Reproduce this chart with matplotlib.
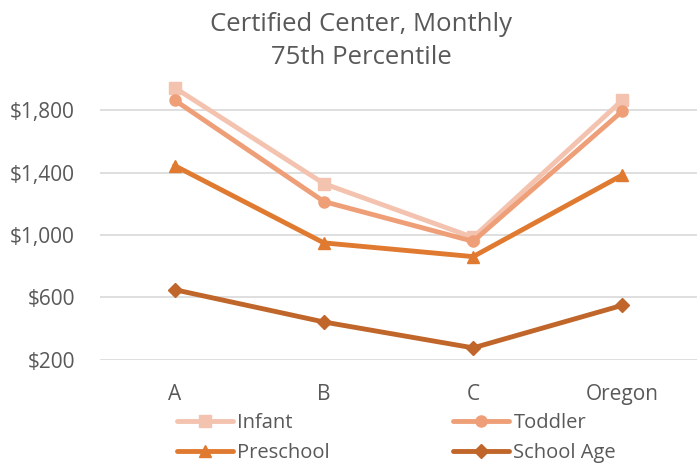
import numpy as np
from matplotlib import pyplot as plt

categories = ["A", "B", "C", "Oregon"]
infant = [1945, 1330, 985, 1865]
toddler = [1865, 1215, 960, 1795]
preschool = [1445, 950, 862, 1385]
school_age = [650, 443, 277, 550]

yticks = [200, 600, 1000, 1400, 1800]

plt.rcParams['font.family'] = ['Open Sans', 'DejaVu Sans']
gray = '#595959'

fig = plt.figure(figsize=(6.97, 4.68), dpi=100)
ax = fig.add_axes([0.1435, 0.231, 0.8565, 0.6])

x = np.arange(len(categories))
series = [
    ("Infant", infant, '#F4C3AF', 's', 9),
    ("Toddler", toddler, '#EF9F78', 'o', 8),
    ("Preschool", preschool, '#E07A30', '^', 9),
    ("School Age", school_age, '#C0662B', 'D', 7),
]
lines = {}
for name, vals, col, mk, ms in series:
    ln, = ax.plot(x, vals, color=col, lw=3.5, marker=mk, markersize=ms,
                  label=name, solid_joinstyle='round', solid_capstyle='round')
    lines[name] = ln

ax.set_xlim(-0.5, 3.5)
ax.set_ylim(200, 2000)
ax.set_yticks(yticks)
ax.set_yticklabels(["${:,}".format(v) for v in yticks])
ax.set_xticks(x)
ax.set_xticklabels(categories)
ax.tick_params(axis='both', length=0, labelsize=15, colors=gray)
ax.tick_params(axis='x', pad=17)
ax.tick_params(axis='y', pad=18)
for s in ax.spines.values():
    s.set_visible(False)
ax.grid(axis='y', color='#D9D9D9', linewidth=1.2)
ax.set_axisbelow(True)

fig.text(361 / 697, 0.975, "Certified Center, Monthly\n75th Percentile", ha='center',
         va='top', fontsize=18.5, color=gray, linespacing=1.45)

cols = [(["Infant", "Preschool"], 177), (["Toddler", "School Age"], 453)]
for names, xpx in cols:
    leg = fig.legend([lines[n] for n in names], names, loc='center left',
                     bbox_to_anchor=(xpx / 697, 1 - 438 / 468), frameon=False,
                     fontsize=14.5, handlelength=2.8, handletextpad=0.2,
                     labelspacing=0.5, borderpad=0, borderaxespad=0)
    for t in leg.get_texts():
        t.set_color(gray)

fig.savefig("out.png", dpi=100)
